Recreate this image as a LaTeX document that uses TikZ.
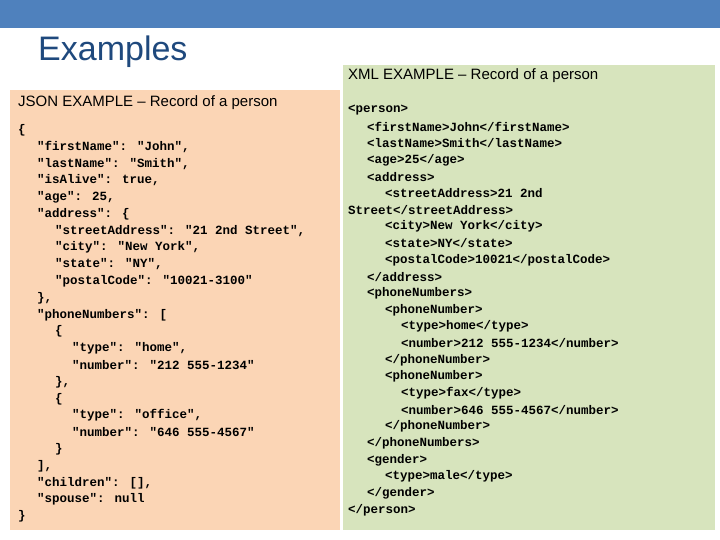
\documentclass[tikz,border=0pt]{standalone}
\usepackage{fontspec}
\setmainfont{Liberation Sans}
\newfontfamily\codefont{Liberation Mono}
\definecolor{barblue}{HTML}{4F81BD}
\definecolor{peach}{HTML}{FBD5B5}
\definecolor{sage}{HTML}{D7E4BD}
\definecolor{titleblue}{HTML}{1F497D}
\begin{document}
\begin{tikzpicture}[x=1pt,y=-1pt,
  code/.style={anchor=west,inner sep=0pt,font=\codefont\bfseries\fontsize{12.5}{14}\selectfont},
  head/.style={anchor=west,inner sep=0pt,font=\fontsize{15}{18}\selectfont}]
\useasboundingbox (0,0) rectangle (720,540);
\fill[barblue] (0,0) rectangle (720,28);
\node[anchor=west,inner sep=0pt,text=titleblue,font=\fontsize{34}{40}\selectfont] (title) at (38,52) {Examples};
\fill[peach] (10,90) rectangle (340,530);
\fill[sage] (343,65) rectangle (715,530);
\node[head] (jh) at (18,103) {JSON EXAMPLE – Record of a person};
\node[head] (xh) at (348,76) {XML EXAMPLE – Record of a person};
\foreach \t/\x [count=\i from 0] in {
 {\{}/18,
 {"firstName": "John",}/37,
 {"lastName": "Smith",}/37,
 {"isAlive": true,}/37,
 {"age": 25,}/37,
 {"address": \{}/37,
 {"streetAddress": "21 2nd Street",}/55,
 {"city": "New York",}/55,
 {"state": "NY",}/55,
 {"postalCode": "10021-3100"}/55,
 {\},}/37,
 {"phoneNumbers": [}/37,
 {\{}/55,
 {"type": "home",}/72,
 {"number": "212 555-1234"}/72,
 {\},}/55,
 {\{}/55,
 {"type": "office",}/72,
 {"number": "646 555-4567"}/72,
 {\}}/55,
 {],}/37,
 {"children": [],}/37,
 {"spouse": null}/37,
 {\}}/18}
 \node[code] (j\i) at (\x,130+16.8*\i) {\t};
\foreach \t/\x [count=\i from 0] in {
 {<person>}/348,
 {<firstName>John</firstName>}/367,
 {<lastName>Smith</lastName>}/367,
 {<age>25</age>}/367,
 {<address>}/367,
 {<streetAddress>21 2nd}/385,
 {Street</streetAddress>}/348,
 {<city>New York</city>}/385,
 {<state>NY</state>}/385,
 {<postalCode>10021</postalCode>}/385,
 {</address>}/367,
 {<phoneNumbers>}/367,
 {<phoneNumber>}/385,
 {<type>home</type>}/401,
 {<number>212 555-1234</number>}/401,
 {</phoneNumber>}/385,
 {<phoneNumber>}/385,
 {<type>fax</type>}/401,
 {<number>646 555-4567</number>}/401,
 {</phoneNumber>}/385,
 {</phoneNumbers>}/367,
 {<gender>}/367,
 {<type>male</type>}/385,
 {</gender>}/367,
 {</person>}/348}
 \node[code] (x\i) at (\x,110+16.67*\i) {\t};
\end{tikzpicture}
\end{document}
